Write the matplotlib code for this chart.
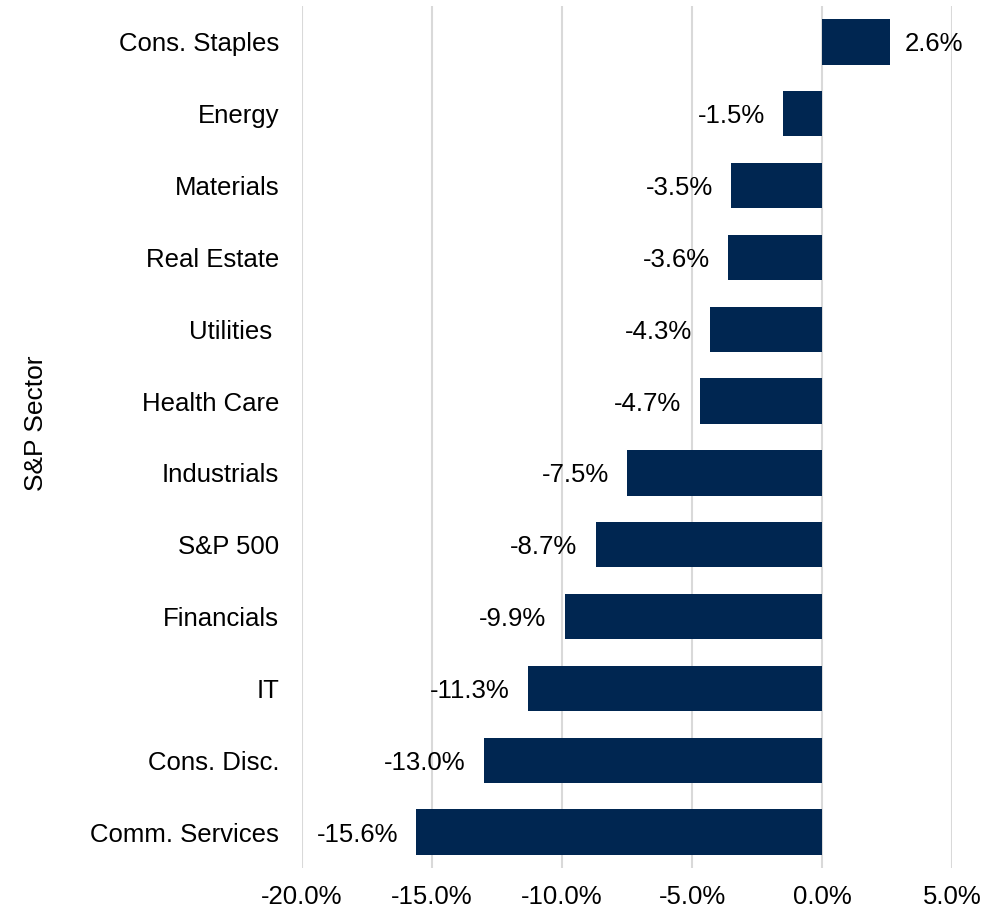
import matplotlib
matplotlib.use("Agg")
import matplotlib.pyplot as plt
from matplotlib.ticker import FuncFormatter

# sector returns, top to bottom as shown
sectors = ["Cons. Staples", "Energy", "Materials", "Real Estate", "Utilities ",
           "Health Care", "Industrials", "S&P 500", "Financials", "IT",
           "Cons. Disc.", "Comm. Services"]
returns = [2.6, -1.5, -3.5, -3.6, -4.3, -4.7, -7.5, -8.7, -9.9, -11.3, -13.0, -15.6]
xticks = [-20, -15, -10, -5, 0, 5]

plt.rcParams['font.family'] = ['Liberation Sans', 'DejaVu Sans']
plt.rcParams['font.size'] = 18.5

fig = plt.figure(figsize=(9.84, 9.11), dpi=100)
ax = fig.add_axes([0.3069, 0.0472, 0.6606, 0.9462])

ypos = list(range(len(sectors)))
ax.barh(ypos, returns, height=0.63, color='#002651', zorder=3)

for y, v in zip(ypos, returns):
    if v >= 0:
        ax.text(v + 0.6, y, f"{v:.1f}%", va='center_baseline', ha='left')
    else:
        ax.text(v - 0.7, y, f"{v:.1f}%", va='center_baseline', ha='right')

ax.set_yticks(ypos)
ax.set_yticklabels(sectors)
ax.set_ylim(len(sectors) - 0.5, -0.5)
ax.set_xlim(-20, 5)
ax.set_xticks(xticks)
ax.xaxis.set_major_formatter(FuncFormatter(lambda x, p: f"{x:.1f}%"))
ax.grid(axis='x', color='#d9d9d9', linewidth=1.5, zorder=0)
for s in ax.spines.values():
    s.set_visible(False)
ax.tick_params(length=0)
ax.tick_params(axis='y', pad=16.5)
ax.tick_params(axis='x', pad=12)
ax.set_ylabel("S&P Sector", fontsize=19)
ax.yaxis.set_label_coords(-0.39, 0.516)

fig.savefig("out.png", dpi=100)
